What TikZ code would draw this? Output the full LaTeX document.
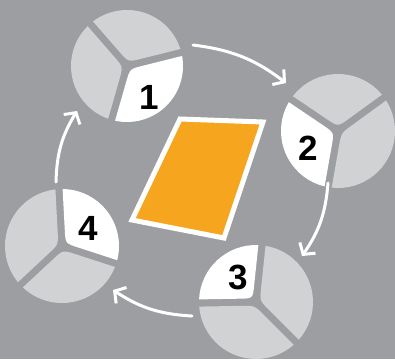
\documentclass[tikz,border=0pt]{standalone}
\usepackage{fontspec}
\setmainfont{Liberation Sans}
\usetikzlibrary{arrows.meta,calc}
\definecolor{bg}{HTML}{9D9EA2}
\definecolor{seg}{HTML}{D1D2D4}
\definecolor{org}{HTML}{F6A61E}
\tikzset{
  flow/.style={draw=white, line width=3pt, line cap=round, -{Straight Barb[length=8pt,width=19pt,line width=3pt]}},
  numlabel/.style={font=\bfseries\fontsize{35}{35}\selectfont, text=black, inner sep=0pt},
  paper/.style={draw=white, line width=5pt, fill=org, line join=miter}
}
% \seg{cx}{cy}{R}{alpha}{beta}{colour}  (math angles, y up)
\newcommand{\seg}[6]{%
  \pgfmathsetmacro\sHalf{(#5-#4)/2}%
  \pgfmathsetmacro\sPd{3.6/sin(\sHalf)}%
  \pgfmathsetmacro\sDa{asin(3.6/#3)}%
  \pgfmathsetmacro\sBis{-(#4+\sHalf)}%
  \pgfmathsetmacro\sA{-(#4+\sDa)}%
  \pgfmathsetmacro\sB{-(#5-\sDa)}%
  \coordinate (sP) at ($(#1,#2)+(\sBis:\sPd)$);
  \coordinate (sRA) at ($(#1,#2)+(\sA:#3)$);
  \coordinate (sRB) at ($(#1,#2)+(\sB:#3)$);
  \coordinate (sFA) at ($(sP)!13pt!(sRA)$);
  \coordinate (sFB) at ($(sP)!13pt!(sRB)$);
  \fill[#6] (sFA) -- (sRA) arc[start angle=\sA, end angle=\sB, radius=#3] -- (sFB) .. controls (sP) .. (sFA) -- cycle;
}
% \wheel{cx}{cy}{r}{arm1}{arm2}{arm3}  white sector = arm1..arm2
\newcommand{\wheel}[6]{%
  \seg{#1}{#2}{#3}{#4}{#5}{white}%
  \seg{#1}{#2}{#3}{#5}{#6}{seg}%
  \pgfmathsetmacro\wEnd{#4+360}%
  \seg{#1}{#2}{#3}{#6}{\wEnd}{seg}%
}
\begin{document}
\begin{tikzpicture}[x=1pt,y=-1pt]
\fill[bg] (0,0) rectangle (395,359);
\useasboundingbox (0,0) rectangle (395,359);
\wheel{127}{66}{56}{254}{374}{491}
\wheel{338}{131}{57}{146}{260}{396}
\wheel{256}{302}{57}{84}{181}{315}
\wheel{62}{246}{57}{-18}{93}{223}
\node[numlabel] (n1) at (149,97) {1};
\node[numlabel] (n2) at (308,148) {2};
\node[numlabel] (n3) at (238,277) {3};
\node[numlabel] (n4) at (88,228) {4};
\draw[paper] (180,119) -- (263,122) -- (224,238) -- (132,220) -- cycle;
\coordinate (a1s) at (193,45);
\coordinate (a1e) at (286,83);
\coordinate (a2s) at (328,183);
\coordinate (a2e) at (302,256);
\coordinate (a3s) at (192,316);
\coordinate (a3e) at (113,290);
\coordinate (a4s) at (56,182);
\coordinate (a4e) at (77,111);
\draw[flow] (a1s) to[bend left=15] (a1e);
\draw[flow] (a2s) to[bend left=15] (a2e);
\draw[flow] (a3s) to[bend left=15] (a3e);
\draw[flow] (a4s) to[bend left=15] (a4e);
\end{tikzpicture}
\end{document}
